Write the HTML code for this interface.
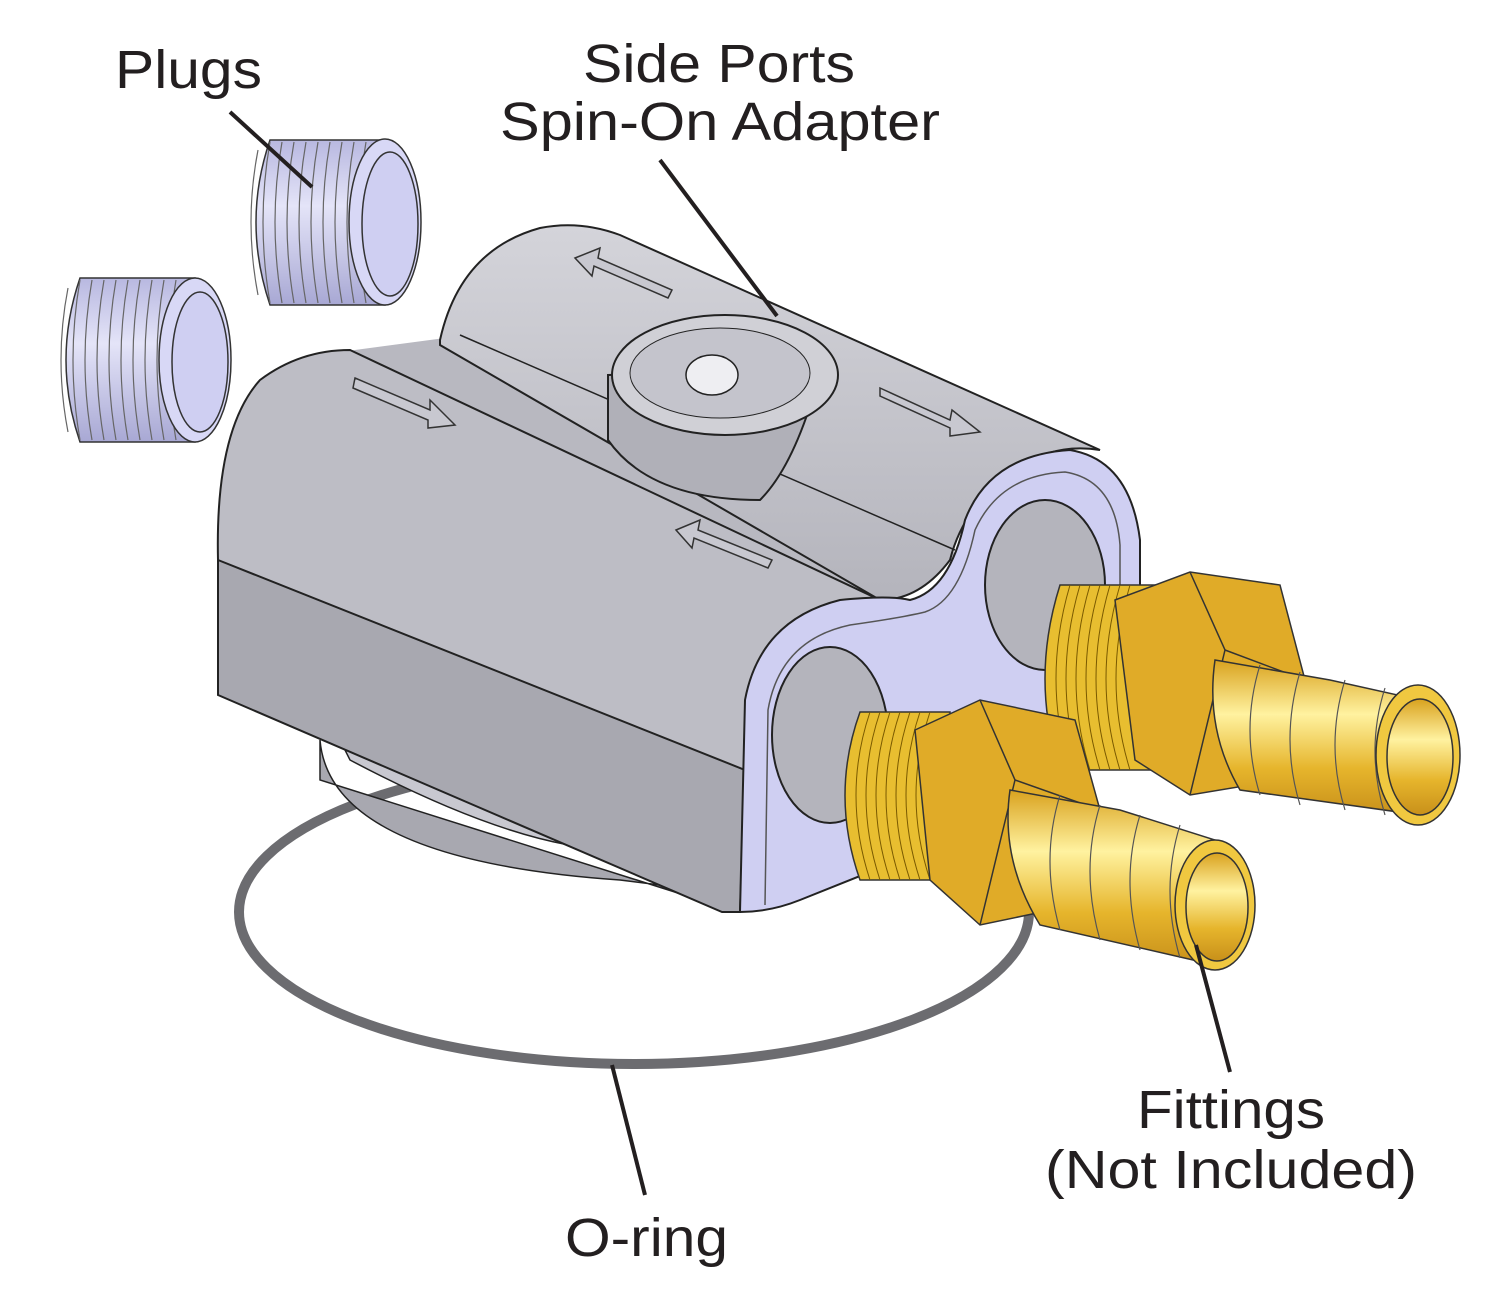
<!DOCTYPE html>
<html><head><meta charset="utf-8"><style>
html,body{margin:0;padding:0;background:#fff;}
svg{display:block}
text{font-family:"Liberation Sans",Arial,sans-serif;fill:#231f20;}
</style></head><body>
<svg width="1500" height="1298" viewBox="0 0 1500 1298" xmlns="http://www.w3.org/2000/svg">
<defs>
<linearGradient id="gold" x1="0" y1="0" x2="0" y2="1">
<stop offset="0" stop-color="#d9a21e"/><stop offset="0.35" stop-color="#fff2a0"/><stop offset="0.7" stop-color="#e6b52c"/><stop offset="1" stop-color="#c8901a"/></linearGradient>
<linearGradient id="topg" x1="0" y1="0" x2="0" y2="1">
<stop offset="0" stop-color="#d4d4da"/><stop offset="1" stop-color="#b4b4bc"/></linearGradient>
<linearGradient id="plug" x1="0" y1="0" x2="0" y2="1">
<stop offset="0" stop-color="#b8b8e0"/><stop offset="0.4" stop-color="#e4e4f8"/><stop offset="1" stop-color="#a8a8d4"/></linearGradient>
</defs>

<!-- O-ring -->
<ellipse cx="634" cy="912" rx="395" ry="152" fill="none" stroke="#6c6c70" stroke-width="10"/>

<!-- base under body -->
<path d="M320 740 Q330 860 620 880 L700 890 L700 900 L320 780 Z" fill="#a8a8b0" stroke="#222" stroke-width="1.5"/>
<path d="M340 740 Q480 700 620 850 Q520 850 350 760Z" fill="#c8c8d0" stroke="#222" stroke-width="1.5"/>

<!-- gap filler between lobes -->
<path d="M340 352 L445 338 L960 555 L880 605 Z" fill="#b8b8c0"/>

<!-- left side face -->
<path d="M218 555 L218 695 L722 912 L740 912 L745 770 L230 555 Z" fill="#a8a8b0" stroke="#222" stroke-width="2"/>
<!-- back lobe -->
<path d="M440 340 Q460 250 540 228 Q580 220 620 235 L1100 450 Q1040 440 990 490 Q960 520 950 560 Q920 600 880 600 L440 345Z" fill="url(#topg)" stroke="#222" stroke-width="2"/>
<line x1="460" y1="335" x2="955" y2="550" stroke="#222" stroke-width="1.5"/>
<!-- front lobe (cylinder top) -->
<path d="M218 560 Q215 430 260 380 Q300 350 350 350 L880 600 Q800 620 760 680 Q740 720 745 770 L218 560Z" fill="#bdbdc5" stroke="#222" stroke-width="2"/>

<!-- arrows -->
<g fill="#c8c8d0" stroke="#333" stroke-width="1.5">
<path d="M575 258 L600 248 L598 258 L672 290 L668 298 L594 266 L592 276Z"/>
<path d="M355 378 L430 410 L430 400 L455 425 L428 428 L428 420 L353 388Z"/>
<path d="M880 388 L950 420 L952 410 L980 432 L950 436 L950 428 L880 396Z"/>
<path d="M676 530 L700 520 L698 530 L772 560 L768 568 L694 538 L692 548Z"/>
</g>

<!-- boss -->
<path d="M608 375 L608 440 Q650 500 760 500 Q790 470 812 400 L830 370 Z" fill="#b0b0b8" stroke="#222" stroke-width="2"/>
<ellipse cx="725" cy="375" rx="113" ry="60" fill="#d0d0d6" stroke="#222" stroke-width="2"/>
<ellipse cx="720" cy="373" rx="90" ry="45" fill="#c4c4cc" stroke="#222" stroke-width="1"/>
<ellipse cx="712" cy="375" rx="26" ry="20" fill="#eeeef2" stroke="#222" stroke-width="1.5"/>

<!-- end face -->
<path d="M740 912 L745 700 Q760 620 840 600 Q890 595 910 600 Q950 590 965 520 Q990 455 1070 450 Q1130 460 1140 540 L1140 700 Q1120 760 1000 820 L800 900 Q770 912 740 912Z" fill="#cfcff2" stroke="#222" stroke-width="2"/>
<path d="M765 905 L768 710 Q780 640 850 625 Q900 618 925 612 Q960 600 975 530 Q1000 475 1065 472 Q1115 480 1120 545 L1120 690" fill="none" stroke="#555" stroke-width="1.5"/>
<ellipse cx="830" cy="735" rx="58" ry="88" fill="#b4b4bc" stroke="#222" stroke-width="2"/>
<ellipse cx="1045" cy="585" rx="60" ry="85" fill="#b4b4bc" stroke="#222" stroke-width="2"/>

<!-- plugs -->
<g stroke="#333" stroke-width="1.5">
<path d="M270 140 L385 140 L385 305 L270 305 Q242 222 270 140Z" fill="url(#plug)"/>
<g fill="none" stroke="#666" stroke-width="1.2">
<path d="M258 150 Q244 222 258 295"/><path d="M270 142 Q256 222 270 303"/><path d="M282 142 Q268 222 282 303"/><path d="M294 142 Q280 222 294 303"/><path d="M306 142 Q292 222 306 303"/><path d="M318 142 Q304 222 318 303"/><path d="M330 142 Q316 222 330 303"/><path d="M342 142 Q328 222 342 303"/><path d="M354 142 Q340 222 354 303"/><path d="M366 142 Q352 222 366 303"/>
</g>
<ellipse cx="385" cy="222" rx="36" ry="83" fill="#d8d8f6"/>
<ellipse cx="390" cy="224" rx="28" ry="72" fill="#cfcff2"/>
<path d="M80 278 L195 278 L195 442 L80 442 Q52 360 80 278Z" fill="url(#plug)"/>
<g fill="none" stroke="#666" stroke-width="1.2">
<path d="M68 288 Q54 360 68 432"/><path d="M80 280 Q66 360 80 440"/><path d="M92 280 Q78 360 92 440"/><path d="M104 280 Q90 360 104 440"/><path d="M116 280 Q102 360 116 440"/><path d="M128 280 Q114 360 128 440"/><path d="M140 280 Q126 360 140 440"/><path d="M152 280 Q138 360 152 440"/><path d="M164 280 Q150 360 164 440"/><path d="M176 280 Q162 360 176 440"/>
</g>
<ellipse cx="195" cy="360" rx="36" ry="82" fill="#d8d8f6"/>
<ellipse cx="200" cy="362" rx="28" ry="70" fill="#cfcff2"/>
</g>

<!-- fitting back -->
<g stroke="#333" stroke-width="1.5">
<path d="M1060 585 L1160 585 L1160 770 L1060 770 Q1030 680 1060 585Z" fill="#e8be30"/>
<g fill="none" stroke="#7a5a00" stroke-width="1"><path d="M1070 585 Q1042 680 1070 770"/><path d="M1080 585 Q1052 680 1080 770"/><path d="M1090 585 Q1062 680 1090 770"/><path d="M1100 585 Q1072 680 1100 770"/><path d="M1110 585 Q1082 680 1110 770"/><path d="M1120 585 Q1092 680 1120 770"/><path d="M1130 585 Q1102 680 1130 770"/></g>
<path d="M1115 600 L1190 572 L1280 585 L1305 680 L1280 780 L1190 795 L1135 760 Z" fill="#e0ab28"/>
<path d="M1190 572 L1225 650 L1190 795" fill="none"/>
<path d="M1225 650 L1305 680" fill="none"/>
<path d="M1215 660 L1330 680 L1420 700 L1420 815 L1240 790 Q1205 730 1215 660Z" fill="url(#gold)"/>
<g fill="none" stroke="#555" stroke-width="1.2"><path d="M1260 665 Q1240 730 1260 795"/><path d="M1300 672 Q1280 740 1300 805"/><path d="M1345 680 Q1325 745 1345 810"/><path d="M1385 688 Q1365 750 1385 815"/></g>
<ellipse cx="1418" cy="755" rx="42" ry="70" fill="#f0c840"/>
<ellipse cx="1420" cy="757" rx="33" ry="58" fill="url(#gold)"/>
</g>

<!-- fitting front -->
<g stroke="#333" stroke-width="1.5">
<path d="M860 712 L950 712 L950 880 L860 880 Q830 795 860 712Z" fill="#e8be30"/>
<g fill="none" stroke="#7a5a00" stroke-width="1"><path d="M870 712 Q842 795 870 880"/><path d="M880 712 Q852 795 880 880"/><path d="M890 712 Q862 795 890 880"/><path d="M900 712 Q872 795 900 880"/><path d="M910 712 Q882 795 910 880"/><path d="M920 712 Q892 795 920 880"/><path d="M930 712 Q902 795 930 880"/></g>
<path d="M915 730 L980 700 L1075 720 L1100 810 L1075 905 L980 925 L930 880 Z" fill="#e0ab28"/>
<path d="M980 700 L1015 780 L980 925" fill="none"/>
<path d="M1015 780 L1100 810" fill="none"/>
<path d="M1010 790 L1120 810 L1215 840 L1215 965 L1040 925 Q1000 860 1010 790Z" fill="url(#gold)"/>
<g fill="none" stroke="#555" stroke-width="1.2"><path d="M1060 795 Q1040 860 1060 930"/><path d="M1100 805 Q1080 870 1100 940"/><path d="M1140 815 Q1120 880 1140 950"/><path d="M1180 825 Q1160 890 1180 958"/></g>
<ellipse cx="1215" cy="905" rx="40" ry="65" fill="#f0c840"/>
<ellipse cx="1217" cy="907" rx="31" ry="54" fill="url(#gold)"/>
</g>

<!-- leaders -->
<g stroke="#231f20" stroke-width="4" fill="none">
<line x1="230" y1="112" x2="312" y2="187"/>
<line x1="660" y1="160" x2="777" y2="316"/>
<line x1="1230" y1="1072" x2="1196" y2="945"/>
<line x1="645" y1="1195" x2="612" y2="1065"/>
</g>

<!-- labels -->
<text x="115" y="88" font-size="54" textLength="147" lengthAdjust="spacingAndGlyphs">Plugs</text>
<text x="583" y="82" font-size="54" textLength="272" lengthAdjust="spacingAndGlyphs">Side Ports</text>
<text x="500" y="140" font-size="54" textLength="440" lengthAdjust="spacingAndGlyphs">Spin-On Adapter</text>
<text x="1137" y="1128" font-size="54" textLength="188" lengthAdjust="spacingAndGlyphs">Fittings</text>
<text x="1045" y="1188" font-size="54" textLength="372" lengthAdjust="spacingAndGlyphs">(Not Included)</text>
<text x="565" y="1256" font-size="54" textLength="163" lengthAdjust="spacingAndGlyphs">O-ring</text>
</svg>
</body></html>
